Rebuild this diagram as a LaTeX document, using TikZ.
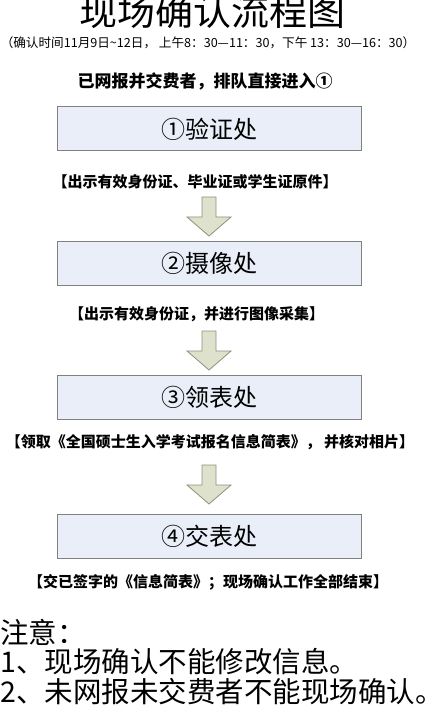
\documentclass[tikz,border=0pt]{standalone}
\usepackage{fontspec}
\setmainfont{Noto Sans CJK SC}
\usetikzlibrary{positioning}
\definecolor{boxfill}{HTML}{E9EEF8}
\definecolor{boxline}{HTML}{808080}
\definecolor{arrfill}{HTML}{DEE1CB}
\definecolor{arrline}{HTML}{8E907A}
\tikzset{
  stepbox/.style={draw=boxline, line width=1pt, fill=boxfill, minimum width=304pt, minimum height=44pt, inner sep=0pt, font=\fontsize{24}{26}\selectfont},
  note/.style={inner sep=0pt, font=\bfseries\fontsize{15}{17}\selectfont},
  remark/.style={inner sep=0pt, anchor=west, font=\fontsize{28.5}{31}\selectfont},
  downarrow/.style={draw=arrline, line width=0.8pt, fill=arrfill, line join=miter}
}
\newcommand{\flowarrow}[2]{% #1 = top y, name prefix #2
  \coordinate (#2) at (209,#1);
  \draw[downarrow] ([xshift=-7pt]#2) -- ([xshift=7pt]#2) -- ([xshift=7pt,yshift=-20pt]#2)
    -- ([xshift=22pt,yshift=-20pt]#2) -- ([yshift=-39pt]#2) -- ([xshift=-22pt,yshift=-20pt]#2)
    -- ([xshift=-7pt,yshift=-20pt]#2) -- cycle;
}
\begin{document}
\begin{tikzpicture}[x=1pt,y=-1pt]
\useasboundingbox (0,0) rectangle (445,719);
\node[inner sep=0pt, font=\fontsize{38}{40}\selectfont] (title) at (212,11) {现场确认流程图};
\node[inner sep=0pt, font=\fontsize{12.6}{14}\selectfont] (time) at (208,43) {（确认时间11月9日\textasciitilde12日， 上午8：30—11：30，下午 13：30—16：30）};
\node[inner sep=0pt, font=\bfseries\fontsize{17}{19}\selectfont] (head) at (205,81) {已网报并交费者，排队直接进入①};

\node[stepbox] (s1) at (209,129) {①验证处};
\node[note] (n1) at (195,182) {【出示有效身份证、毕业证或学生证原件】};
\flowarrow{197}{a1}
\node[stepbox] (s2) at (209,263.5) {②摄像处};
\node[note] (n2) at (196.5,314) {【出示有效身份证，并进行图像采集】};
\flowarrow{331}{a2}
\node[stepbox] (s3) at (209,397) {③领表处};
\node[note] (n3) at (210,442) {【领取《全国硕士生入学考试报名信息简表》， 并核对相片】};
\flowarrow{465}{a3}
\node[stepbox] (s4) at (209,536) {④交表处};
\node[note] (n4) at (208,582) {【交已签字的《信息简表》；现场确认工作全部结束】};

\node[remark] (r0) at (0,632) {注意：};
\node[remark] (r1) at (0,662) {1、现场确认不能修改信息。};
\node[remark] (r2) at (0,692) {2、未网报未交费者不能现场确认。};
\end{tikzpicture}
\end{document}
